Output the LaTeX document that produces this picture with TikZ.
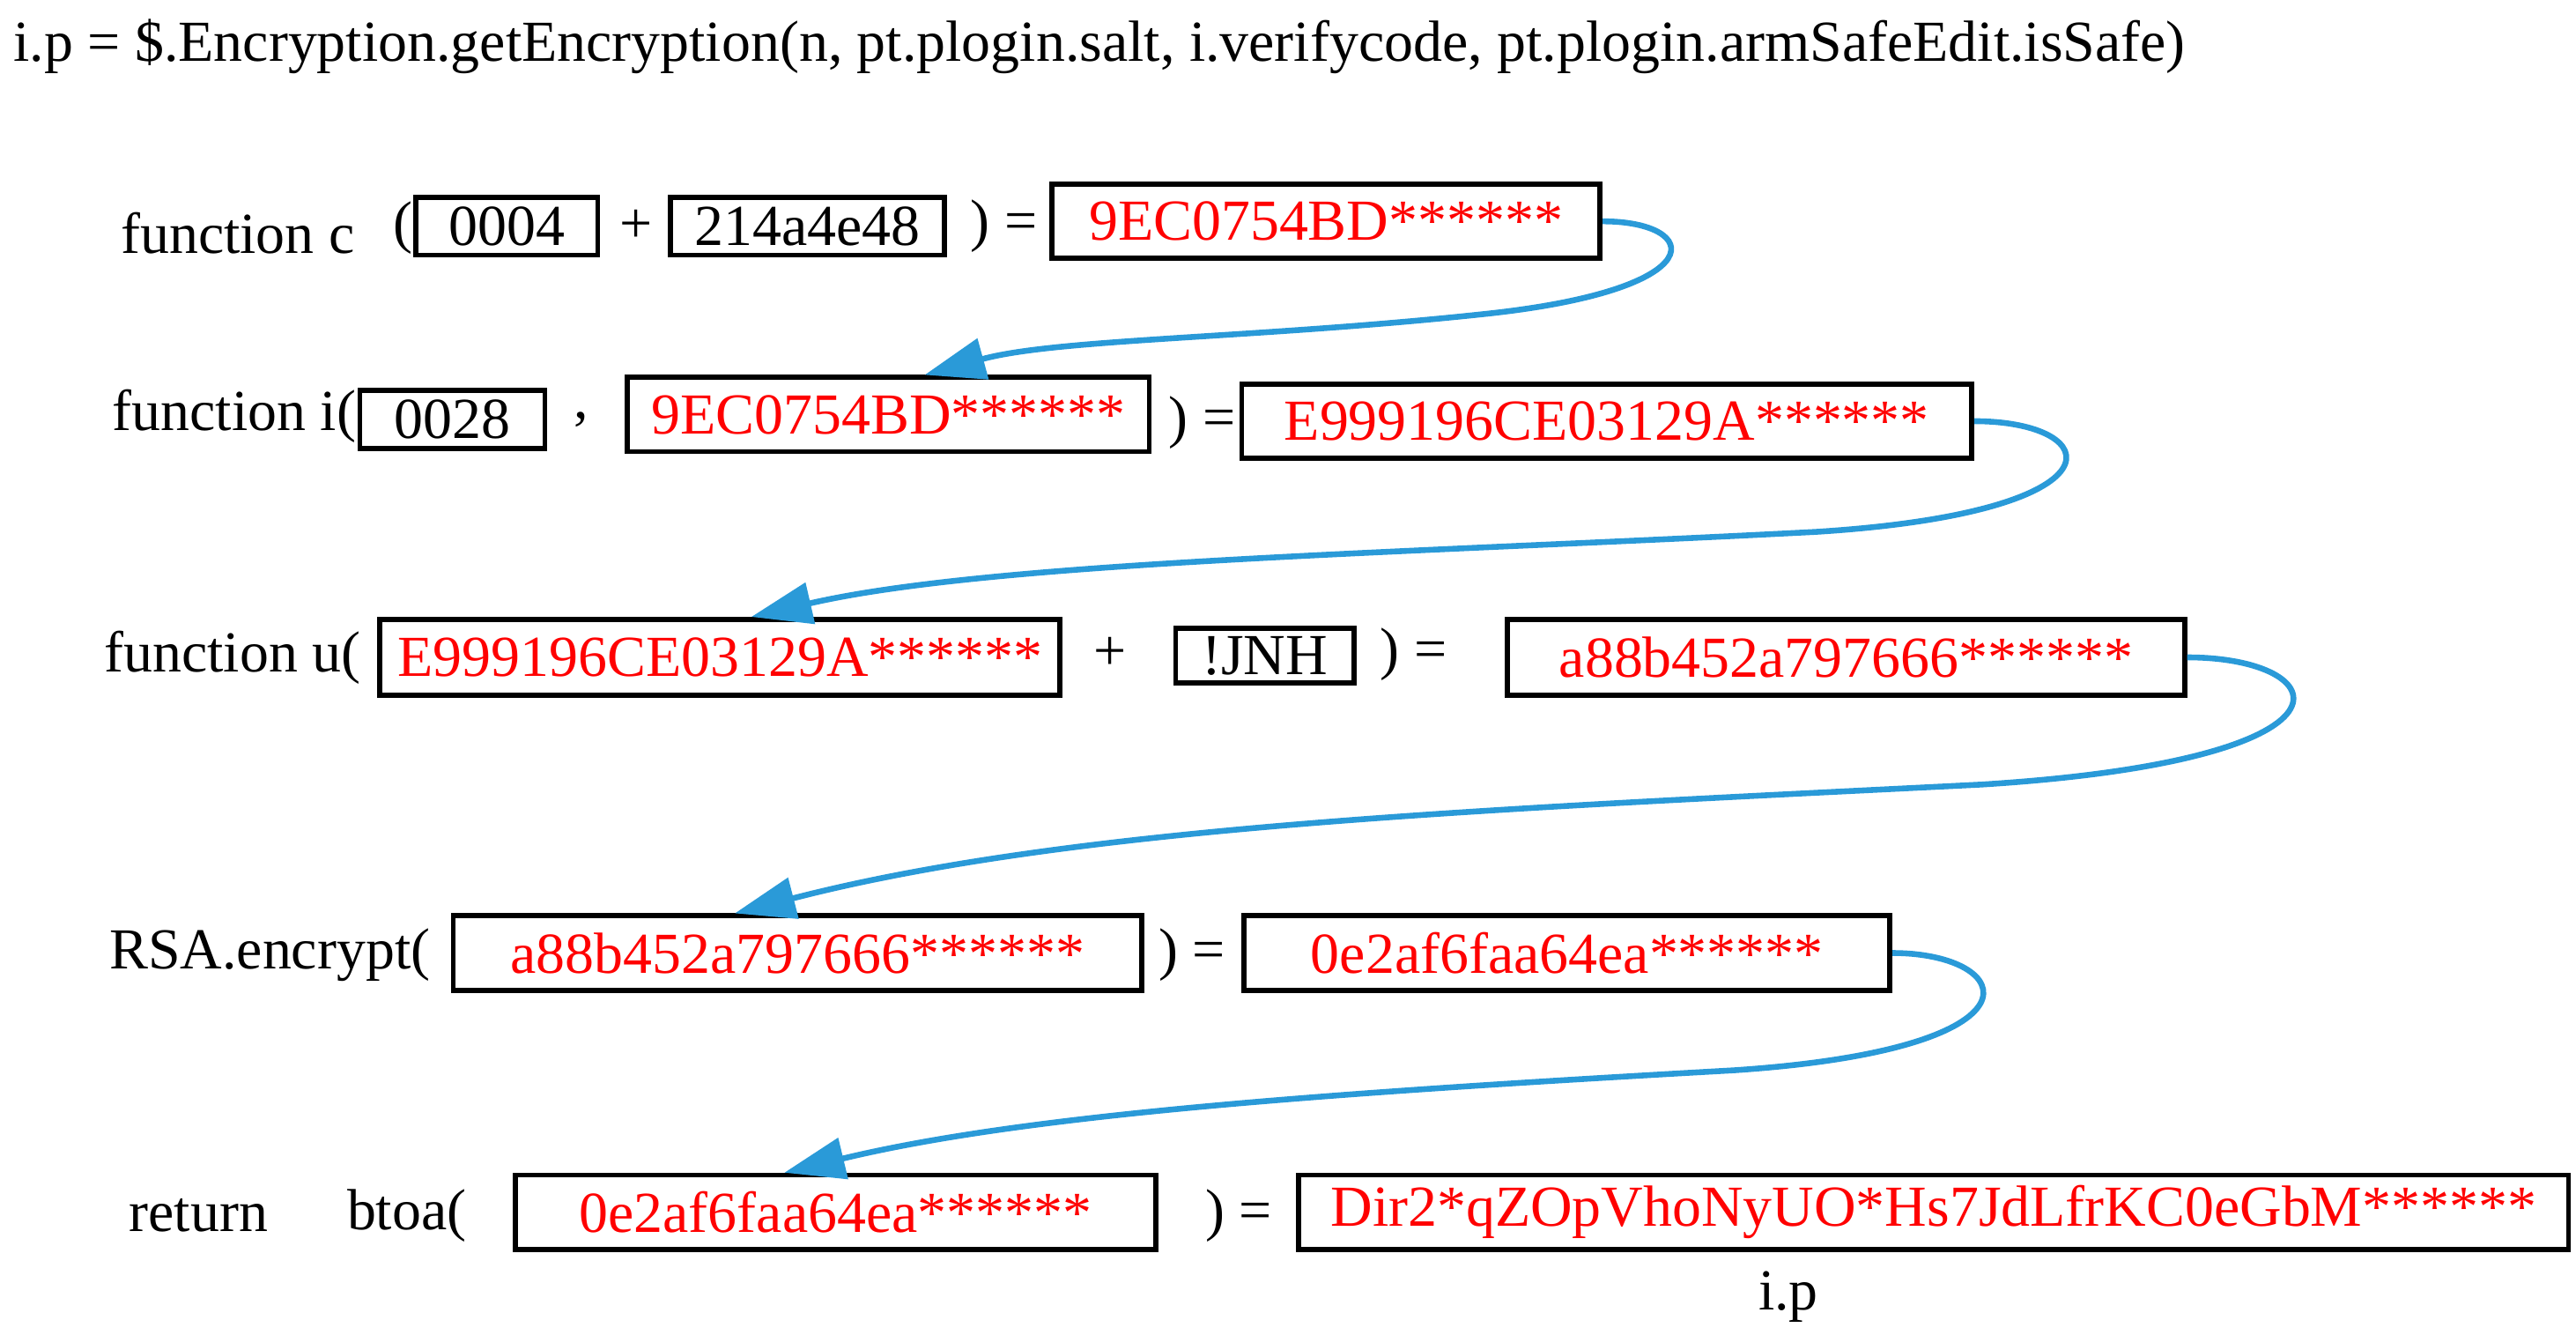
\documentclass[tikz,border=0pt]{standalone}
\usepackage{fontspec}
\setmainfont{Liberation Serif}
\usetikzlibrary{arrows.meta}
\definecolor{arrblue}{HTML}{2A9AD8}
\begin{document}
\begin{tikzpicture}[x=0.03cm,y=-0.03cm,
  every node/.style={font=\fontsize{30}{33}\selectfont, inner sep=0pt},
  bx/.style={draw=black, line width=2.6pt, minimum height=1.05cm},
  rbx/.style={bx, text=red},
  lbl/.style={anchor=west},
  flow/.style={draw=arrblue, line width=3pt, -{Triangle[length=1.1cm,width=0.75cm]}}]
\useasboundingbox (0,0) rectangle (1560,808);
\node[lbl] (title) at (8,28) {i.p = \$.Encryption.getEncryption(n, pt.plogin.salt, i.verifycode, pt.plogin.armSafeEdit.isSafe)};
% row 1
\node[lbl] (fc) at (73,141) {function c};
\node (p1) at (244,138) {(};
\node[bx, minimum width=110*0.03cm, minimum height=35*0.03cm] (a1) at (307,137) {0004};
\node (pl1) at (385,137) {+};
\node[bx, minimum width=166*0.03cm, minimum height=35*0.03cm] (a2) at (489,137) {214a4e48};
\node (eq1) at (608,137) {) =};
\node[rbx, minimum width=332*0.03cm, minimum height=45*0.03cm] (r1) at (803,134) {9EC0754BD******};
% row 2
\node[lbl] (fi) at (68,252) {function i(};
\node[bx, minimum width=112*0.03cm, minimum height=35*0.03cm] (b1) at (274,254) {0028};
\node (cm) at (352,254) {,};
\node[rbx, minimum width=316*0.03cm, minimum height=45*0.03cm] (r2) at (538,251) {9EC0754BD******};
\node (eq2) at (728,256) {) =};
\node[rbx, minimum width=442*0.03cm, minimum height=45*0.03cm] (r3) at (973,255) {E999196CE03129A******};
% row 3
\node[lbl] (fu) at (63,398) {function u(};
\node[rbx, minimum width=412*0.03cm, minimum height=46*0.03cm] (r4) at (436,398) {E999196CE03129A******};
\node (pl3) at (672,396) {+};
\node[bx, minimum width=108*0.03cm, minimum height=33*0.03cm] (c1) at (766,397) {!JNH};
\node (eq3) at (856,396) {) =};
\node[rbx, minimum width=410*0.03cm, minimum height=46*0.03cm] (r5) at (1118,398) {a88b452a797666******};
% row 4
\node[lbl] (rsa) at (66,578) {RSA.encrypt(};
\node[rbx, minimum width=417*0.03cm, minimum height=45*0.03cm] (r6) at (483,577) {a88b452a797666******};
\node (eq4) at (722,578) {) =};
\node[rbx, minimum width=391*0.03cm, minimum height=45*0.03cm] (r7) at (949,577) {0e2af6faa64ea******};
% row 5
\node[lbl] (ret) at (78,736) {return};
\node[lbl] (bt) at (210,736) {btoa(};
\node[rbx, minimum width=388*0.03cm, minimum height=45*0.03cm] (r8) at (506,734) {0e2af6faa64ea******};
\node (eq5) at (750,736) {) =};
\node[rbx, minimum width=769*0.03cm, minimum height=45*0.03cm] (r9) at (1171,734) {Dir2*qZOpVhoNyUO*Hs7JdLfrKC0eGbM******};
\node (ip) at (1083,785) {i.p};
% arrows
\draw[flow] (r1.east) .. controls +(60,0) and (1040,175) .. (900,190) .. controls (760,205) and (640,205) .. ([xshift=22*0.03cm]r2.north);
\draw[flow] (r3.east) .. controls +(80,0) and (1290,310) .. (1100,322) .. controls (850,335) and (600,340) .. ([xshift=19*0.03cm]r4.north);
\draw[flow] (r5.east) .. controls +(90,0) and (1440,460) .. (1200,475) .. controls (900,490) and (650,500) .. ([xshift=-38*0.03cm]r6.north);
\draw[flow] (r7.east) .. controls +(75,0) and (1245,635) .. (1050,648) .. controls (800,662) and (620,675) .. ([xshift=-31*0.03cm]r8.north);
\end{tikzpicture}
\end{document}
